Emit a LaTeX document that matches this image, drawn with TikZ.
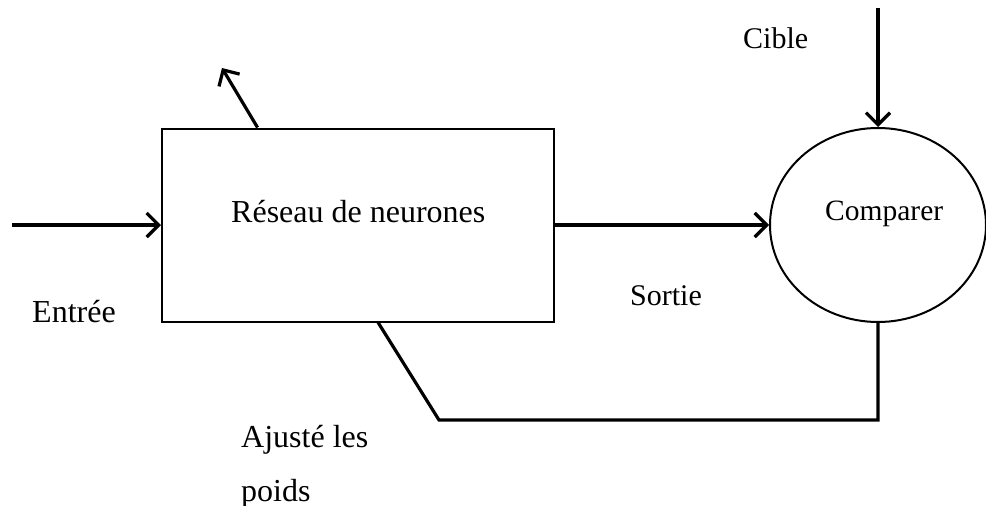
\documentclass[tikz,border=0pt]{standalone}
\usepackage{fontspec}
\setmainfont{Liberation Serif}
\usetikzlibrary{arrows.meta,shapes.geometric,calc}
\begin{document}
\begin{tikzpicture}[x=1pt,y=-1pt,
  lbl/.style={anchor=base west,inner sep=0pt,font=\fontsize{29.5}{36}\selectfont},
  biglbl/.style={lbl,font=\fontsize{32}{38}\selectfont},
  conn/.style={line width=3.2pt,-{Straight Barb[length=12pt,width=24pt,line width=3.2pt]}},
  plain/.style={line width=3.2pt},
  blockbox/.style={draw,line width=2pt,rectangle,minimum width=392pt,minimum height=193pt,inner sep=0pt},
  cmpshape/.style={draw,line width=2pt,ellipse,minimum width=216pt,minimum height=194pt,inner sep=0pt}]
\useasboundingbox (0,0) rectangle (986,506);
\node[blockbox] (net) at (358,225) {};
\node[cmpshape] (cmp) at (878,225) {};
\node[biglbl] (tnet) at (231,222) {Réseau de neurones};
\node[lbl] (tcmp) at (825,220) {Comparer};
\node[biglbl] (tin) at (32,322) {Entrée};
\node[lbl,font=\fontsize{30}{36}\selectfont] (tout) at (630,305) {Sortie};
\node[lbl,font=\fontsize{30}{36}\selectfont] (tcib) at (743,48) {Cible};
\node[biglbl] (tadj) at (241,447) {Ajusté les};
\node[biglbl] (tpoi) at (241,501) {poids};
\coordinate (in) at (12,225);
\coordinate (cibtop) at (878,8);
\coordinate (adjtip) at (222,68);
\coordinate (adjbase) at ($(net.north west)!0.245!(net.north east)$);
\coordinate (fbend) at ($(net.south west)!0.551!(net.south east)$);
\coordinate (fbcorner) at (439,420);
\draw[conn] (in) -- (net.west);
\draw[conn] (net.east) -- (cmp.west);
\draw[conn] (cibtop) -- (cmp.north);
\draw[conn] (adjbase) -- (adjtip);
\draw[plain,line join=miter] (cmp.south) |- (fbcorner) -- (fbend);
\end{tikzpicture}
\end{document}
